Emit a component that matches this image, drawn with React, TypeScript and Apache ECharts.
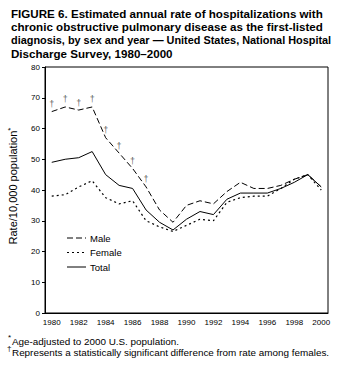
import React, { useEffect, useRef } from "react";
import * as echarts from "echarts";

const years = ["1980","1981","1982","1983","1984","1985","1986","1987","1988","1989","1990","1991","1992","1993","1994","1995","1996","1997","1998","1999","2000"];
const male = [65.5, 67, 66, 67, 57, 52, 47, 41, 33.5, 29.5, 35, 36.5, 35.5, 39.5, 42.5, 40.5, 40.5, 41.5, 43.5, 45, 41];
const female = [38, 38.5, 41, 43, 37.5, 35.5, 36.5, 30, 28, 26.5, 28.5, 30.5, 30, 36, 37.5, 38, 38, 40.5, 43.5, 45, 40];
const total = [49, 50, 50.5, 52.5, 45, 41.5, 40.5, 33.5, 29.5, 27, 30.5, 33, 32, 37, 39, 39, 39, 40.5, 42.5, 45, 41];
const significantYears = ["1980","1981","1982","1983","1984","1985","1986","1987"];
const seriesNames = ["Male", "Female", "Total"];
const yTicks = { min: 0, max: 80, interval: 10 };

const FONT = "Liberation Sans, Arial, Helvetica, sans-serif";
const DASHES: Record<string, number[] | null> = { Male: [6, 3], Female: [2, 3], Total: null };

export default function App() {
  const ref = useRef<HTMLDivElement>(null);
  useEffect(() => {
    if (!ref.current) return;
    const chart = echarts.init(ref.current, undefined, { renderer: "svg" });
    const daggerData = significantYears.map((y) => [y, male[years.indexOf(y)]]);
    const legendGraphics: any[] = [];
    seriesNames.forEach((name, i) => {
      const y = 238 + i * 14.5;
      legendGraphics.push({
        type: "line",
        shape: { x1: 67, y1: y, x2: 86, y2: y },
        style: { stroke: "#000", lineWidth: name === "Female" ? 1.2 : 1, lineDash: DASHES[name] || undefined },
      });
      legendGraphics.push({
        type: "text",
        x: 90,
        y,
        style: { text: name, fontFamily: FONT, fontSize: 9.5, fill: "#000", verticalAlign: "middle" },
      });
    });
    const titleStyle = { fontFamily: FONT, fontWeight: "bold" as const, color: "#000", lineHeight: 13.3 };
    chart.setOption({
      animation: false,
      backgroundColor: "#fff",
      textStyle: { fontFamily: FONT, color: "#000" },
      title: {
        text:
          "{a|FIGURE 6. Estimated annual rate of hospitalizations with}\n" +
          "{a|chronic obstructive pulmonary disease as the first-listed}\n" +
          "{b|diagnosis, by sex and year — United States, National Hospital}\n" +
          "{a|Discharge Survey, 1980–2000}",
        left: 6,
        top: 2,
        textStyle: {
          fontFamily: FONT,
          fontSize: 11.6,
          fontWeight: "bold",
          lineHeight: 13.3,
          color: "#000",
          rich: {
            a: { ...titleStyle, fontSize: 11.6 },
            b: { ...titleStyle, fontSize: 10.9 },
          },
        },
      },
      grid: { left: 45, right: 17, top: 67, bottom: 67, show: true, borderColor: "#000", borderWidth: 1, backgroundColor: "transparent" },
      xAxis: {
        type: "category",
        data: years,
        boundaryGap: true,
        axisLine: { lineStyle: { color: "#000", width: 1 } },
        axisTick: { alignWithLabel: true, interval: 0, length: 3, lineStyle: { color: "#000" } },
        axisLabel: { interval: 1, fontSize: 8, color: "#000", fontFamily: FONT, margin: 5 },
        splitLine: { show: false },
      },
      yAxis: {
        type: "value",
        min: yTicks.min,
        max: yTicks.max,
        interval: yTicks.interval,
        axisLine: { show: true, lineStyle: { color: "#000", width: 1 } },
        axisTick: { show: true, length: 3, lineStyle: { color: "#000" } },
        axisLabel: { fontSize: 8, color: "#000", fontFamily: FONT, margin: 5 },
        splitLine: { show: false },
      },
      series: [
        {
          name: "Male",
          type: "line",
          data: male,
          symbol: "none",
          lineStyle: { color: "#000", width: 1, type: DASHES.Male },
          itemStyle: { color: "#000" },
        },
        {
          name: "Female",
          type: "line",
          data: female,
          symbol: "none",
          lineStyle: { color: "#000", width: 1.2, type: DASHES.Female },
          itemStyle: { color: "#000" },
        },
        {
          name: "Total",
          type: "line",
          data: total,
          symbol: "none",
          lineStyle: { color: "#000", width: 1 },
          itemStyle: { color: "#000" },
        },
        {
          name: "significant",
          type: "scatter",
          data: daggerData,
          symbolSize: 0,
          silent: true,
          itemStyle: { color: "#000" },
          label: { show: true, formatter: "†", position: "top", distance: 3, fontSize: 9, color: "#333", textBorderWidth: 0, fontFamily: FONT },
        },
      ],
      graphic: [
        ...legendGraphics,
        {
          type: "text",
          x: 13,
          y: 186,
          rotation: Math.PI / 2,
          style: {
            text: "{a|Rate/10,000 population}{s|*}",
            align: "center",
            verticalAlign: "middle",
            rich: {
              a: { fontFamily: FONT, fontSize: 11, fill: "#000" },
              s: { fontFamily: FONT, fontSize: 8, fill: "#000", verticalAlign: "top", padding: [0, 0, 6, 0] },
            },
          },
        },
        { type: "text", x: 8, y: 333, style: { text: "*", fontFamily: FONT, fontSize: 8, fill: "#000" } },
        { type: "text", x: 12, y: 336, style: { text: "Age-adjusted to 2000 U.S. population.", fontFamily: FONT, fontSize: 9.9, fill: "#000" } },
        { type: "text", x: 7, y: 344, style: { text: "†", fontFamily: FONT, fontSize: 8, fill: "#000" } },
        { type: "text", x: 12, y: 347, style: { text: "Represents a statistically significant difference from rate among females.", fontFamily: FONT, fontSize: 9.9, fill: "#000" } },
      ],
    });
    return () => chart.dispose();
  }, []);
  return <div ref={ref} style={{ position: "absolute", left: 0, top: 0, width: 345, height: 380 }} />;
}
